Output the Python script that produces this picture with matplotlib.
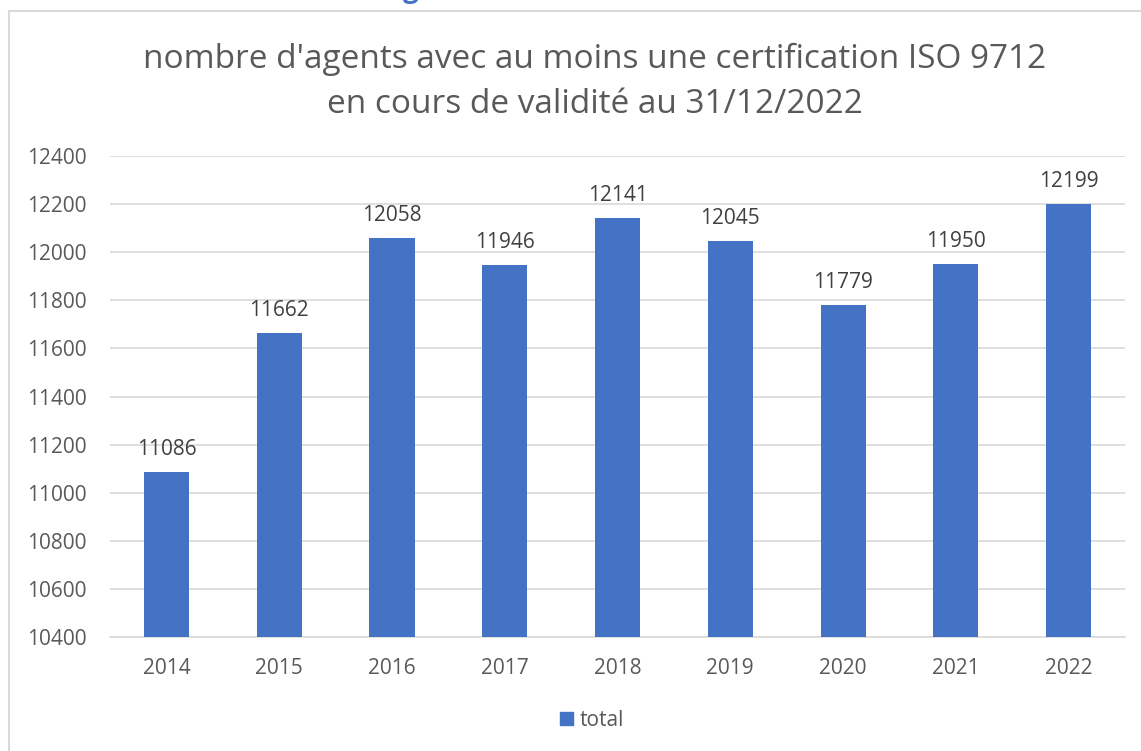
import matplotlib
matplotlib.use("Agg")
import matplotlib.pyplot as plt
from matplotlib.lines import Line2D
from matplotlib.patches import Patch

years = ["2014", "2015", "2016", "2017", "2018", "2019", "2020", "2021", "2022"]
total = [11086, 11662, 12058, 11946, 12141, 12045, 11779, 11950, 12199]
yticks = [10400, 10600, 10800, 11000, 11200, 11400, 11600, 11800, 12000, 12200, 12400]

plt.rcParams['font.family'] = ['Open Sans', 'DejaVu Sans']
blue = "#4472C4"
grey_txt = "#595959"

W, H = 1141, 751
fig = plt.figure(figsize=(W / 100, H / 100), dpi=100)

# chart frame (top and left edge visible)
fig.add_artist(Line2D([9 / W, 1.0], [1 - 11 / H, 1 - 11 / H], color="#D9D9D9", lw=1.5))
fig.add_artist(Line2D([9 / W, 9 / W], [0, 1 - 11 / H], color="#D9D9D9", lw=1.5))

# descender of a cut-off heading above the chart
fig.text(411 / W, 1 + 3 / H, "g", color=blue, fontsize=20, fontweight="bold",
         ha="center", va="baseline")

ax = fig.add_axes([110 / W, 1 - 637 / H, (1125 - 110) / W, (637 - 156) / H])
x = range(len(years))
bars = ax.bar(x, total, width=0.4, color=blue, zorder=3, label="total")
ax.set_ylim(10400, 12400)
ax.set_xlim(-0.5, len(years) - 0.5)
ax.set_yticks(yticks)
ax.set_xticks(list(x))
ax.set_xticklabels(years)
ax.grid(axis="y", color="#D9D9D9", lw=1.2, zorder=0)
for s in ["top", "right", "left"]:
    ax.spines[s].set_visible(False)
ax.spines["bottom"].set_color("#D9D9D9")
ax.spines["bottom"].set_linewidth(1.2)
ax.tick_params(length=0, labelsize=15, colors=grey_txt)
ax.tick_params(axis="x", pad=15)
ax.tick_params(axis="y", pad=17)

for xi, v in zip(x, total):
    ax.annotate(str(v), (xi, v), xytext=(0, 9), textcoords="offset points",
                ha="center", va="bottom", fontsize=15, color="#404040")

fig.text(595 / W, 1 - 82 / H,
         "nombre d'agents avec au moins une certification ISO 9712\nen cours de validité au 31/12/2022",
         ha="center", va="center", fontsize=24, color=grey_txt, linespacing=1.5)

fig.legend(handles=[Patch(color=blue, label="total")], loc="center",
           bbox_to_anchor=(592 / W, 1 - 720 / H), frameon=False, fontsize=15,
           handlelength=0.6, handleheight=0.6, handletextpad=0.3,
           labelcolor=grey_txt)

fig.savefig("out.png", dpi=100)
